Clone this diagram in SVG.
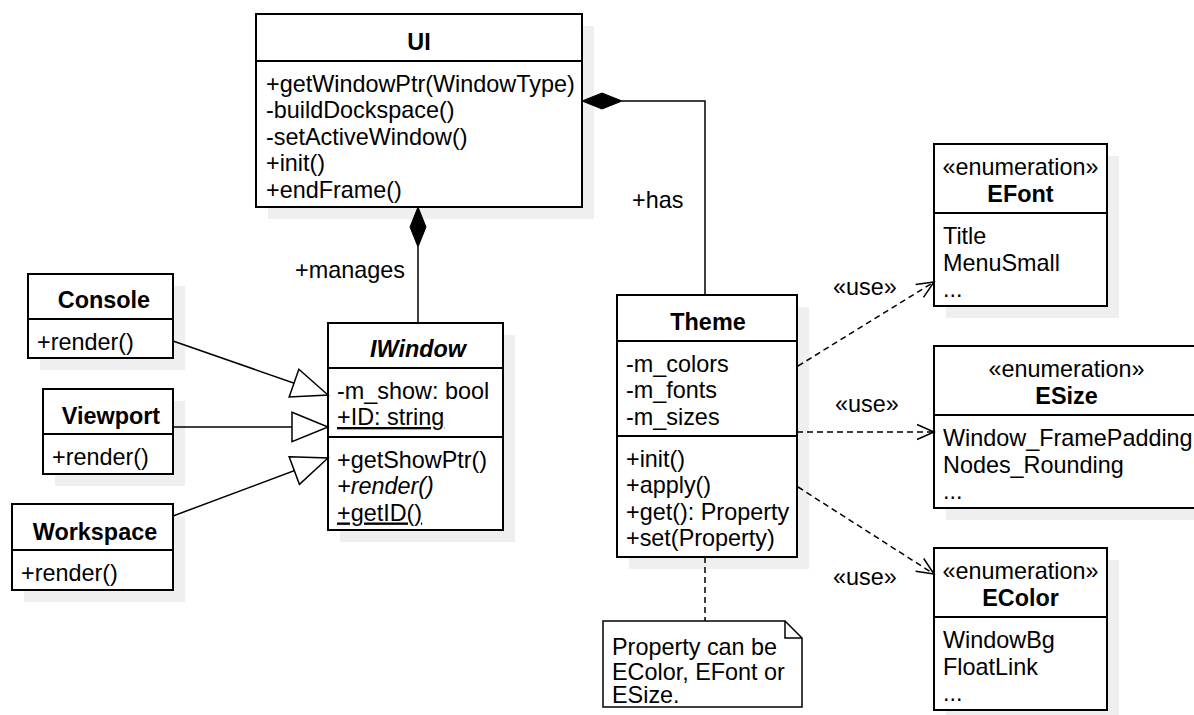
<svg xmlns="http://www.w3.org/2000/svg" width="1194" height="715" viewBox="0 0 1194 715">
<style>
text{font-family:"Liberation Sans",Arial,Helvetica,sans-serif;font-size:23.4px;fill:#000}
.t{font-weight:bold;text-anchor:middle}
.c{text-anchor:middle}
.box{fill:#fff;stroke:#000;stroke-width:2}
.sh{fill:#efefef}
.div{stroke:#000;stroke-width:2}
.ln{fill:none;stroke:#000;stroke-width:1.5}
.dash{fill:none;stroke:#000;stroke-width:1.5;stroke-dasharray:6 4}
.u{text-decoration:underline}
.i{font-style:italic}
</style>
<defs>
<marker id="open" markerUnits="userSpaceOnUse" markerWidth="22" markerHeight="20" refX="18" refY="9" orient="auto">
<path d="M1,1.5 L18,9 L1,16.5" fill="none" stroke="#000" stroke-width="1.5" stroke-dasharray="none"/>
</marker>
<marker id="gen" markerUnits="userSpaceOnUse" markerWidth="42" markerHeight="34" refX="38" refY="16" orient="auto">
<path d="M2,1.3 L38,16 L2,30.7 Z" fill="#fff" stroke="#000" stroke-width="1.5"/>
</marker>
</defs>
<rect width="1194" height="715" fill="#fff"/>

<g id="shadows">
<rect class="sh" x="268" y="26" width="326" height="193"/>
<rect class="sh" x="40" y="286" width="145" height="84"/>
<rect class="sh" x="55" y="401" width="130" height="85"/>
<rect class="sh" x="24" y="516" width="161" height="86"/>
<rect class="sh" x="340" y="335" width="175" height="207"/>
<rect class="sh" x="629" y="307" width="180" height="262"/>
<rect class="sh" x="946" y="156" width="173" height="162"/>
<rect class="sh" x="946" y="358" width="265" height="162"/>
<rect class="sh" x="946" y="560" width="173" height="162"/>
</g>

<g id="UI">
<rect class="box" x="256" y="14" width="326" height="193"/>
<line class="div" x1="256" y1="61" x2="582" y2="61"/>
<text class="t" x="419" y="50">UI</text>
<text x="266" y="91.5">+getWindowPtr(WindowType)</text>
<text x="266" y="118">-buildDockspace()</text>
<text x="266" y="144.5">-setActiveWindow()</text>
<text x="266" y="171">+init()</text>
<text x="266" y="197.5">+endFrame()</text>
</g>

<g id="Console">
<rect class="box" x="28" y="274" width="145" height="84"/>
<line class="div" x1="28" y1="319" x2="173" y2="319"/>
<text class="t" x="104" y="308">Console</text>
<text x="37" y="350">+render()</text>
</g>

<g id="Viewport">
<rect class="box" x="43" y="389" width="130" height="85"/>
<line class="div" x1="43" y1="434" x2="173" y2="434"/>
<text class="t" x="111" y="423.5">Viewport</text>
<text x="52" y="465">+render()</text>
</g>

<g id="Workspace">
<rect class="box" x="12" y="504" width="161" height="86"/>
<line class="div" x1="12" y1="550" x2="173" y2="550"/>
<text class="t" x="95" y="539.5">Workspace</text>
<text x="21" y="581">+render()</text>
</g>

<g id="IWindow">
<rect class="box" x="328" y="323" width="175" height="207"/>
<line class="div" x1="328" y1="368" x2="503" y2="368"/>
<line class="div" x1="328" y1="437" x2="503" y2="437"/>
<text class="t i" x="418" y="357">IWindow</text>
<text x="337" y="398.5">-m_show: bool</text>
<text class="u" x="337" y="425">+ID: string</text>
<text x="337" y="467.5">+getShowPtr()</text>
<text class="i" x="337" y="494">+render()</text>
<text class="u" x="337" y="520.5">+getID()</text>
</g>

<g id="Theme">
<rect class="box" x="617" y="295" width="180" height="262"/>
<line class="div" x1="617" y1="341" x2="797" y2="341"/>
<line class="div" x1="617" y1="436" x2="797" y2="436"/>
<text class="t" x="708" y="330">Theme</text>
<text x="626" y="371.5">-m_colors</text>
<text x="626" y="398">-m_fonts</text>
<text x="626" y="424.5">-m_sizes</text>
<text x="626" y="466.5">+init()</text>
<text x="626" y="493">+apply()</text>
<text x="626" y="519.5">+get(): Property</text>
<text x="626" y="546">+set(Property)</text>
</g>

<g id="EFont">
<rect class="box" x="934" y="144" width="173" height="162"/>
<line class="div" x1="934" y1="213" x2="1107" y2="213"/>
<text class="c" x="1020.5" y="175">«enumeration»</text>
<text class="t" x="1020.5" y="202">EFont</text>
<text x="943" y="244">Title</text>
<text x="943" y="270.5">MenuSmall</text>
<text x="943" y="297">...</text>
</g>

<g id="ESize">
<rect class="box" x="934" y="346" width="265" height="162"/>
<line class="div" x1="934" y1="415" x2="1199" y2="415"/>
<text class="c" x="1066.5" y="377">«enumeration»</text>
<text class="t" x="1066.5" y="404">ESize</text>
<text x="943" y="446">Window_FramePadding</text>
<text x="943" y="472.5">Nodes_Rounding</text>
<text x="943" y="499">...</text>
</g>

<g id="EColor">
<rect class="box" x="934" y="548" width="173" height="162"/>
<line class="div" x1="934" y1="617" x2="1107" y2="617"/>
<text class="c" x="1020.5" y="579">«enumeration»</text>
<text class="t" x="1020.5" y="606">EColor</text>
<text x="943" y="648">WindowBg</text>
<text x="943" y="674.5">FloatLink</text>
<text x="943" y="701">...</text>
</g>

<g id="Note">
<path d="M603,621 H785 L802,638 V707 H603 Z" fill="#fff" stroke="#000" stroke-width="1.5"/>
<path d="M785,621 V638 H802" fill="none" stroke="#000" stroke-width="1.5"/>
<text x="612" y="655">Property can be</text>
<text x="612" y="679.5">EColor, EFont or</text>
<text x="612" y="703">ESize.</text>
</g>

<g id="connectors">
<line class="ln" x1="418" y1="247" x2="418" y2="323"/>
<polygon points="418,207 426,227 418,247 410,227" fill="#000" stroke="#000" stroke-width="1"/>
<path class="ln" d="M705,295 V101 H622"/>
<polygon points="582,101 602,93 622,101 602,109" fill="#000" stroke="#000" stroke-width="1"/>
<line class="ln" x1="173" y1="341" x2="328" y2="395" marker-end="url(#gen)"/>
<line class="ln" x1="173" y1="427" x2="328" y2="427" marker-end="url(#gen)"/>
<line class="ln" x1="173" y1="516" x2="328" y2="458" marker-end="url(#gen)"/>
<line class="dash" x1="798" y1="366" x2="934" y2="282" marker-end="url(#open)"/>
<line class="dash" x1="797" y1="432" x2="934" y2="432" marker-end="url(#open)"/>
<line class="dash" x1="798" y1="487" x2="934" y2="574" marker-end="url(#open)"/>
<line class="dash" x1="705" y1="557" x2="705" y2="621"/>
<text x="405" y="278" style="text-anchor:end">+manages</text>
<text x="632" y="208">+has</text>
<text x="833" y="295">«use»</text>
<text x="835" y="411.5">«use»</text>
<text x="833" y="585">«use»</text>
</g>
</svg>
